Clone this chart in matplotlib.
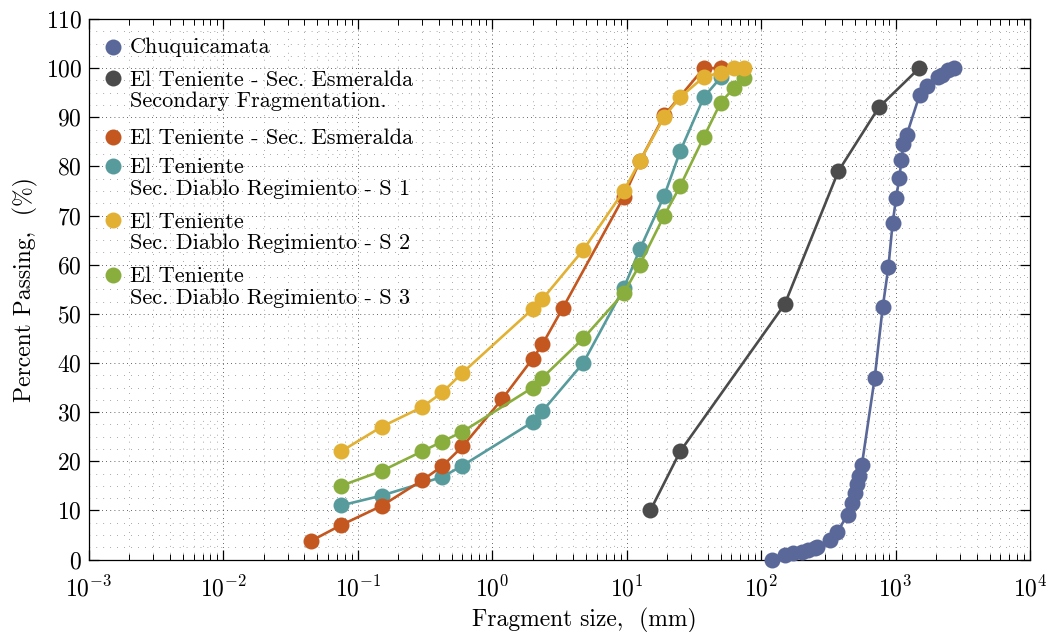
import matplotlib
matplotlib.use("Agg")
import matplotlib.pyplot as plt
from matplotlib.ticker import LogLocator, MultipleLocator, NullFormatter

# ---------------- data ----------------
chuqui_x = [120, 151, 174, 201, 225, 252, 262, 326, 366, 440, 473, 500, 515, 530,
            561, 699, 802, 885, 951, 1010, 1067, 1106, 1145, 1210, 1507, 1727,
            2084, 2210, 2475, 2700]
chuqui_y = [0, 0.9, 1.3, 1.6, 1.9, 2.3, 2.6, 4.0, 5.5, 9.1, 11.4, 13.5, 15.3, 17.0,
            19.2, 36.9, 51.3, 59.6, 68.5, 73.6, 77.7, 81.3, 84.6, 86.4, 94.5, 96.4,
            98.2, 98.7, 99.6, 100]

sf_x = [15, 25, 150, 375, 750, 1500]
sf_y = [10, 22, 52, 79, 92, 100]

esm_x = [0.045, 0.075, 0.15, 0.3, 0.425, 0.6, 1.18, 2.0, 2.36, 3.35, 9.5, 12.5, 19, 37.5, 50]
esm_y = [3.8, 7.0, 10.9, 16.1, 19.0, 23.0, 32.6, 40.9, 43.8, 51.2, 73.8, 81.0, 90.4, 100, 100]

s1_x = [0.075, 0.15, 0.425, 0.6, 2.0, 2.36, 4.75, 9.5, 12.5, 19, 25, 37.5, 50]
s1_y = [11.0, 13.0, 16.8, 19.1, 28.0, 30.2, 40.0, 55.2, 63.1, 74.0, 83.1, 94.1, 98.1]

s2_x = [0.075, 0.15, 0.3, 0.425, 0.6, 2.0, 2.36, 4.75, 9.5, 12.5, 19, 25, 37.5, 50, 63, 75]
s2_y = [22.0, 27.0, 31.0, 34.0, 38.0, 51.0, 53.0, 63.0, 75.0, 81.0, 90.1, 94.1, 98.2, 99.1, 100, 100]

s3_x = [0.075, 0.15, 0.3, 0.425, 0.6, 2.0, 2.36, 4.75, 9.5, 12.5, 19, 25, 37.5, 50, 63, 75]
s3_y = [15.0, 18.0, 22.0, 24.0, 26.0, 35.0, 37.0, 45.0, 54.2, 60.0, 70.0, 76.0, 86.0, 93.0, 96.0, 98.0]

x_ticks = [1e-3, 1e-2, 1e-1, 1e0, 1e1, 1e2, 1e3, 1e4]
y_ticks = [0, 10, 20, 30, 40, 50, 60, 70, 80, 90, 100, 110]

labels = [
    ["Chuquicamata"],
    ["El Teniente - Sec. Esmeralda", "Secondary Fragmentation."],
    ["El Teniente - Sec. Esmeralda"],
    ["El Teniente", "Sec. Diablo Regimiento - S 1"],
    ["El Teniente", "Sec. Diablo Regimiento - S 2"],
    ["El Teniente", "Sec. Diablo Regimiento - S 3"],
]

# ---------------- style ----------------
plt.rcParams.update({
    "font.family": "serif",
    "font.serif": ["cmr10", "DejaVu Serif"],
    "mathtext.fontset": "cm",
    "axes.formatter.use_mathtext": True,
    "axes.unicode_minus": False,
    "font.size": 16,
})

C_BLUE = "#5a6899"
C_GRAY = "#4b4b4b"
C_ORANGE = "#c4561f"
C_TEAL = "#579b9c"
C_YELLOW = "#e2b134"
C_GREEN = "#8aae3d"

W, H = 1049, 632
fig = plt.figure(figsize=(W / 100, H / 100), dpi=100)
# axes box in pixels: x 89..1030, y 19..559.5 (from top)
AX_L, AX_R, AX_T, AX_B = 89, 1030, 19, 559.5
ax = fig.add_axes([AX_L / W, 1 - AX_B / H, (AX_R - AX_L) / W, (AX_B - AX_T) / H])

series = [
    (chuqui_x, chuqui_y, C_BLUE, 3),
    (sf_x, sf_y, C_GRAY, 3),
    (s1_x, s1_y, C_TEAL, 4),
    (esm_x, esm_y, C_ORANGE, 5),
    (s3_x, s3_y, C_GREEN, 6),
    (s2_x, s2_y, C_YELLOW, 7),
]
for xs, ys, col, z in series:
    ax.plot(xs, ys, "-o", color=col, lw=1.9, ms=11.5, mec=col, mew=0, zorder=z,
            clip_on=False)

ax.set_xscale("log")
ax.set_xlim(1e-3, 1e4)
ax.set_ylim(0, 110)
ax.set_xticks(x_ticks)
ax.set_yticks(y_ticks)
ax.yaxis.set_minor_locator(MultipleLocator(2.5))
ax.xaxis.set_minor_locator(LogLocator(base=10, subs=range(2, 10), numticks=100))
ax.xaxis.set_minor_formatter(NullFormatter())

ax.tick_params(which="both", direction="in", top=True, right=True, labelsize=17)
ax.tick_params(which="major", length=7, width=0.9)
ax.tick_params(axis="x", which="major", pad=12)
ax.tick_params(axis="y", which="major", pad=5)
ax.tick_params(axis="x", which="minor", length=4, width=0.7)
ax.tick_params(axis="y", which="minor", length=0)

ax.grid(True, which="major", color="0.2", lw=0.6, ls=(0, (1, 4)))
ax.grid(True, which="minor", color="0.35", lw=0.5, ls=(0, (1, 9)))
ax.set_axisbelow(True)
for sp in ax.spines.values():
    sp.set_linewidth(0.9)

ax.set_xlabel("Fragment size,  (mm)", fontsize=17)
ax.xaxis.set_label_coords(0.526, -0.09)
ax.set_ylabel("Percent Passing,  (%)", fontsize=17)
ax.yaxis.set_label_coords(-0.054, 0.5)

# ---------------- legend (drawn by hand to keep the original line layout) ----------------
def ax_frac(px, py):
    return (px - AX_L) / (AX_R - AX_L), (AX_B - py) / (AX_B - AX_T)

marker_rows = [46.7, 78.3, 136.5, 165.7, 220, 275]
baselines = [[53.3], [86, 107.3], [144], [173.3, 195], [227.7, 249.3], [281.7, 304]]
leg_colors = [C_BLUE, C_GRAY, C_ORANGE, C_TEAL, C_YELLOW, C_GREEN]
for lines, my, bls, col in zip(labels, marker_rows, baselines, leg_colors):
    mx, myf = ax_frac(112.7, my)
    ax.plot([mx], [myf], "o", color=col, ms=11.5, mew=0, transform=ax.transAxes,
            zorder=9)
    for txt, bl in zip(lines, bls):
        tx, ty = ax_frac(130, bl)
        ax.text(tx, ty, txt, transform=ax.transAxes, fontsize=16,
                ha="left", va="baseline", zorder=9)

fig.savefig("out.png", dpi=100)
